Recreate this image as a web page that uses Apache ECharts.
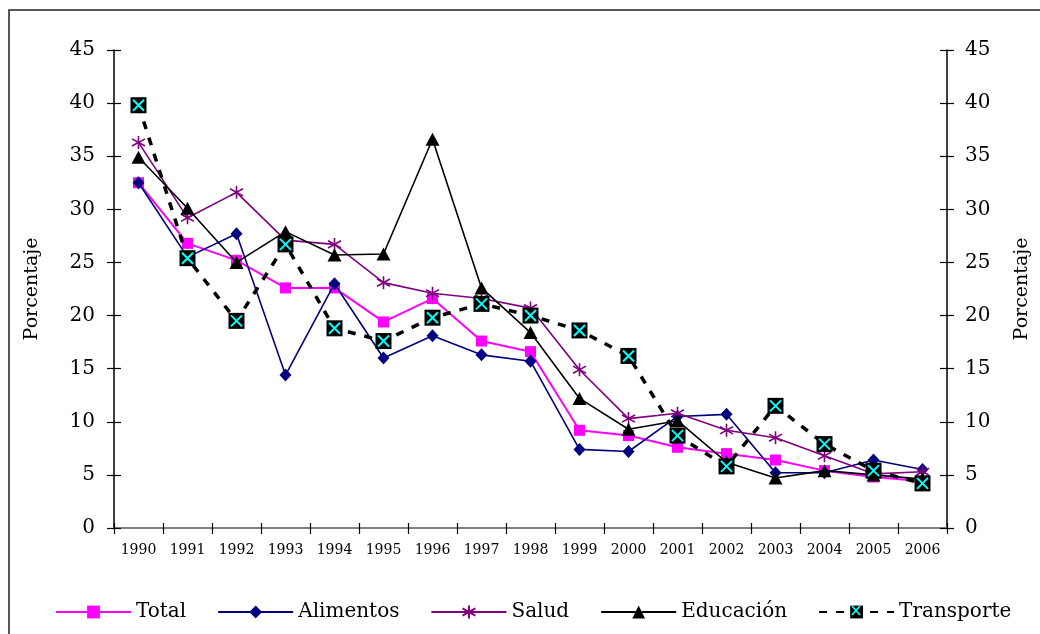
<!DOCTYPE html>
<html>
<head>
<meta charset="utf-8">
<script src="https://cdn.jsdelivr.net/npm/echarts@6/dist/echarts.min.js"></script>
<style>html,body{margin:0;padding:0;background:#fff}#c{width:1040px;height:634px}</style>
</head>
<body>
<div id="c"></div>
<script>
const years = ['1990','1991','1992','1993','1994','1995','1996','1997','1998','1999','2000','2001','2002','2003','2004','2005','2006'];
const total      = [32.5, 26.8, 25.2, 22.6, 22.6, 19.4, 21.6, 17.6, 16.6, 9.2, 8.7, 7.6, 7.0, 6.4, 5.4, 4.8, 4.4];
const alimentos  = [32.5, 25.5, 27.7, 14.4, 23.0, 16.0, 18.1, 16.3, 15.7, 7.4, 7.2, 10.5, 10.7, 5.2, 5.2, 6.4, 5.5];
const salud      = [36.3, 29.2, 31.6, 27.1, 26.7, 23.1, 22.1, 21.6, 20.7, 14.9, 10.3, 10.8, 9.2, 8.5, 6.8, 5.1, 5.3];
const educacion  = [34.9, 30.1, 25.0, 27.9, 25.7, 25.8, 36.6, 22.6, 18.4, 12.2, 9.3, 10.1, 6.2, 4.7, 5.4, 5.0, 4.6];
const transporte = [39.8, 25.4, 19.5, 26.7, 18.8, 17.6, 19.8, 21.1, 20.0, 18.6, 16.2, 8.7, 5.8, 11.5, 7.9, 5.4, 4.2];
const yTicks = {min: 0, max: 45, interval: 5};

const FONT = 'DejaVu Serif';
const asterisk = 'path://M10,0L10,20M1.5,4.5L18.5,15.5M1.5,15.5L18.5,4.5';
const xMark = 'path://M0,0L20,20M0,20L20,0';

const chart = echarts.init(document.getElementById('c'));

function yAx(pos, main, inside) {
  return {
    type: 'value', position: pos, min: yTicks.min, max: yTicks.max, interval: yTicks.interval,
    name: main ? 'Porcentaje' : '', nameLocation: 'middle', nameRotate: 90,
    nameGap: pos === 'left' ? 72 : 66,
    nameTextStyle: {fontFamily: FONT, fontSize: 19, color: '#000'},
    splitLine: {show: false},
    axisLine: {show: main, lineStyle: {color: '#000', width: 1.5}},
    axisTick: {show: true, inside: inside, length: 7, lineStyle: {color: '#000', width: 1.2}},
    axisLabel: {show: main, fontFamily: FONT, fontSize: 20, color: '#000', margin: pos === 'left' ? 19 : 18}
  };
}

chart.setOption({
  animation: false,
  backgroundColor: '#fff',
  grid: {left: 114, right: 92, top: 50, bottom: 106, containLabel: false},
  xAxis: [
    {type: 'category', data: years, position: 'bottom', boundaryGap: true,
     axisLine: {lineStyle: {color: '#000', width: 1.5}},
     axisTick: {show: true, inside: false, length: 6, lineStyle: {color: '#000', width: 1.2}},
     axisLabel: {fontFamily: FONT, fontSize: 14, color: '#000', margin: 15, interval: 0}},
    {type: 'category', data: years, position: 'bottom', boundaryGap: true,
     axisLine: {show: false},
     axisTick: {show: true, inside: true, length: 5, lineStyle: {color: '#000', width: 1.2}},
     axisLabel: {show: false}},
    {type: 'category', data: years, position: 'top', boundaryGap: true,
     axisLine: {show: true, lineStyle: {color: '#999', width: 1.5}},
     axisTick: {show: false}, axisLabel: {show: false}}
  ],
  yAxis: [yAx('left', true, false), yAx('right', true, false), yAx('left', false, true), yAx('right', false, true)],
  legend: {
    left: 50, top: 597, itemGap: 31, itemWidth: 75, itemHeight: 16,
    textStyle: {fontFamily: FONT, fontSize: 20, color: '#000'},
    data: ['Total', 'Alimentos', 'Salud', 'Educación', 'Transporte'],
    selectedMode: false
  },
  series: [
    {name: 'Total', type: 'line', data: total, symbol: 'rect', symbolSize: 11,
     lineStyle: {color: '#FF00FF', width: 2}, itemStyle: {color: '#FF00FF'}, z: 2},
    {name: 'Alimentos', type: 'line', data: alimentos, symbol: 'diamond', symbolSize: [12, 13],
     lineStyle: {color: '#000080', width: 1.6}, itemStyle: {color: '#000080'}, z: 3},
    {name: 'Salud', type: 'line', data: salud, symbol: asterisk, symbolSize: 13,
     lineStyle: {color: '#800080', width: 1.6},
     itemStyle: {color: 'rgba(0,0,0,0)', borderColor: '#800080', borderWidth: 1.6}, z: 4},
    {name: 'Educación', type: 'line', data: educacion, symbol: 'triangle', symbolSize: [14, 13],
     lineStyle: {color: '#000', width: 1.6}, itemStyle: {color: '#000'}, z: 5},
    {name: 'Transporte', type: 'line', data: transporte, symbol: 'rect', symbolSize: 16,
     lineStyle: {color: '#000', width: 3.5, type: [8, 9]}, itemStyle: {color: '#000'}, z: 6},
    {name: 'TransporteX', type: 'scatter', data: transporte, symbol: xMark, symbolSize: 11,
     itemStyle: {color: 'rgba(0,0,0,0)', borderColor: '#00FFFF', borderWidth: 2, opacity: 1}, z: 7, silent: true}
  ]
});

chart.setOption({
  graphic: [
    {type: 'rect', shape: {x: 9, y: 10, width: 1100, height: 700},
     style: {fill: 'none', stroke: '#222', lineWidth: 1.5}, silent: true, z: -10},
    {type: 'line', shape: {x1: 852, y1: 606, x2: 860, y2: 615},
     style: {stroke: '#00FFFF', lineWidth: 1.8}, silent: true, z: 1000, zlevel: 0},
    {type: 'line', shape: {x1: 852, y1: 615, x2: 860, y2: 606},
     style: {stroke: '#00FFFF', lineWidth: 1.8}, silent: true, z: 1000, zlevel: 0}
  ]
});
</script>
</body>
</html>
